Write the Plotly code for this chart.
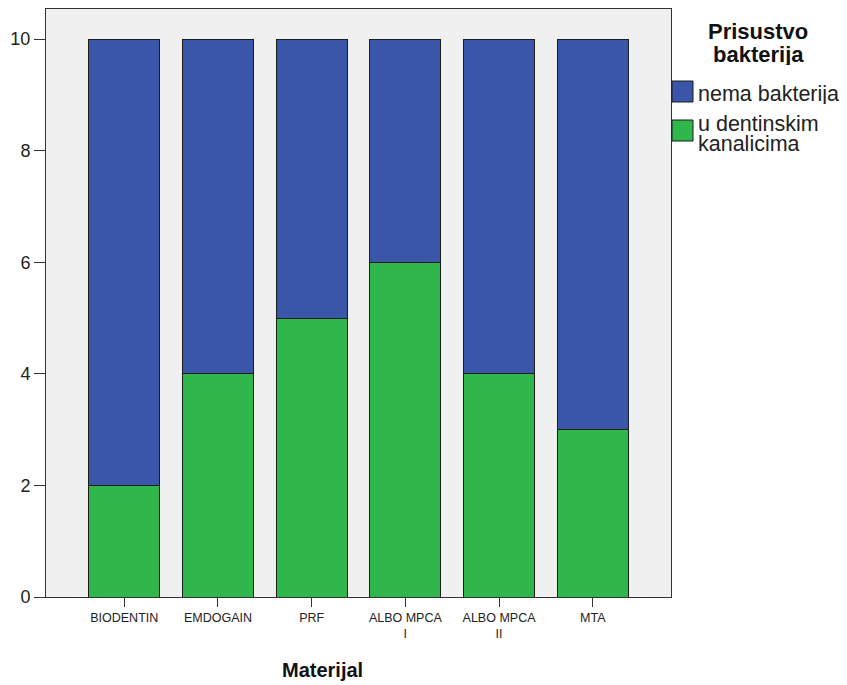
import plotly.graph_objects as go

categories = ["BIODENTIN", "EMDOGAIN", "PRF", "ALBO MPCA<br>I", "ALBO MPCA<br>II", "MTA"]
u_dentinskim = [2, 4, 5, 6, 4, 3]
nema_bakterija = [8, 6, 5, 4, 6, 7]
y_ticks = [0, 2, 4, 6, 8, 10]
legend_title = "Prisustvo<br>bakterija"
legend_labels = ["nema bakterija", "u dentinskim<br>kanalicima"]

BLUE = "#3A56A9"
GREEN = "#2FB74B"
EDGE = "#1c1c1c"
FONT = "Liberation Sans, Arial, sans-serif"

W, H = 847, 685
L, R, T, B = 46, 671, 9, 597


def px(x):
    return (x - L) / (R - L)


def py(y):
    return (B - y) / (B - T)


fig = go.Figure()
fig.add_trace(go.Bar(
    x=categories, y=u_dentinskim, name=legend_labels[1],
    marker=dict(color=GREEN, line=dict(color=EDGE, width=1)), width=0.755,
))
fig.add_trace(go.Bar(
    x=categories, y=nema_bakterija, name=legend_labels[0],
    marker=dict(color=BLUE, line=dict(color=EDGE, width=1)), width=0.755,
))

annotations = []
shapes = []
# legend title
for line, yc in zip(legend_title.split("<br>"), [31.5, 54]):
    annotations.append(dict(
        text=f"<b>{line}</b>", x=px(758), y=py(yc), xref="paper", yref="paper",
        xanchor="center", yanchor="middle", showarrow=False, height=22,
        font=dict(family=FONT, size=22, color="#111111"),
    ))
# legend items
items = [
    (BLUE, (81, 102), [(legend_labels[0], 94)]),
    (GREEN, (120, 141), [(l, yc) for l, yc in zip(legend_labels[1].split("<br>"), [123.5, 144])]),
]
for color, (y0, y1), lines in items:
    shapes.append(dict(
        type="rect", xref="paper", yref="paper",
        x0=px(672), x1=px(693), y0=py(y1), y1=py(y0),
        fillcolor=color, line=dict(color=EDGE, width=1),
    ))
    for text, yc in lines:
        annotations.append(dict(
            text=text, x=px(696), y=py(yc), xref="paper", yref="paper",
            xanchor="left", yanchor="middle", showarrow=False, height=20,
            font=dict(family=FONT, size=21.5, color="#222222"),
        ))
# x-axis title
annotations.append(dict(
    text="<b>Materijal</b>", x=px(322), y=py(670), xref="paper", yref="paper",
    xanchor="center", yanchor="middle", showarrow=False,
    font=dict(family=FONT, size=20, color="#111111"),
))

fig.update_layout(
    width=W, height=H,
    barmode="stack",
    showlegend=False,
    paper_bgcolor="white",
    plot_bgcolor="#F0F0F0",
    margin=dict(l=L, r=W - R, t=T, b=H - B),
    font=dict(family=FONT, color="#222222"),
    annotations=annotations,
    shapes=shapes,
    xaxis=dict(
        range=[-0.835, 5.835],
        automargin=False,
        showline=True, linecolor="#333333", linewidth=1, mirror=True,
        ticks="outside", ticklen=9, tickcolor="#333333",
        tickfont=dict(family=FONT, size=12.5, color="#222222"),
        showgrid=False,
    ),
    yaxis=dict(
        range=[0, 10.54],
        automargin=False,
        tickvals=y_ticks,
        showline=True, linecolor="#333333", linewidth=1, mirror=True,
        ticks="outside", ticklen=11, tickcolor="#333333",
        tickfont=dict(family=FONT, size=18, color="#222222"),
        showgrid=False, zeroline=False,
    ),
)

fig.write_html("out.html", config={"displayModeBar": False},
               post_script="document.body.style.margin='0px';")
